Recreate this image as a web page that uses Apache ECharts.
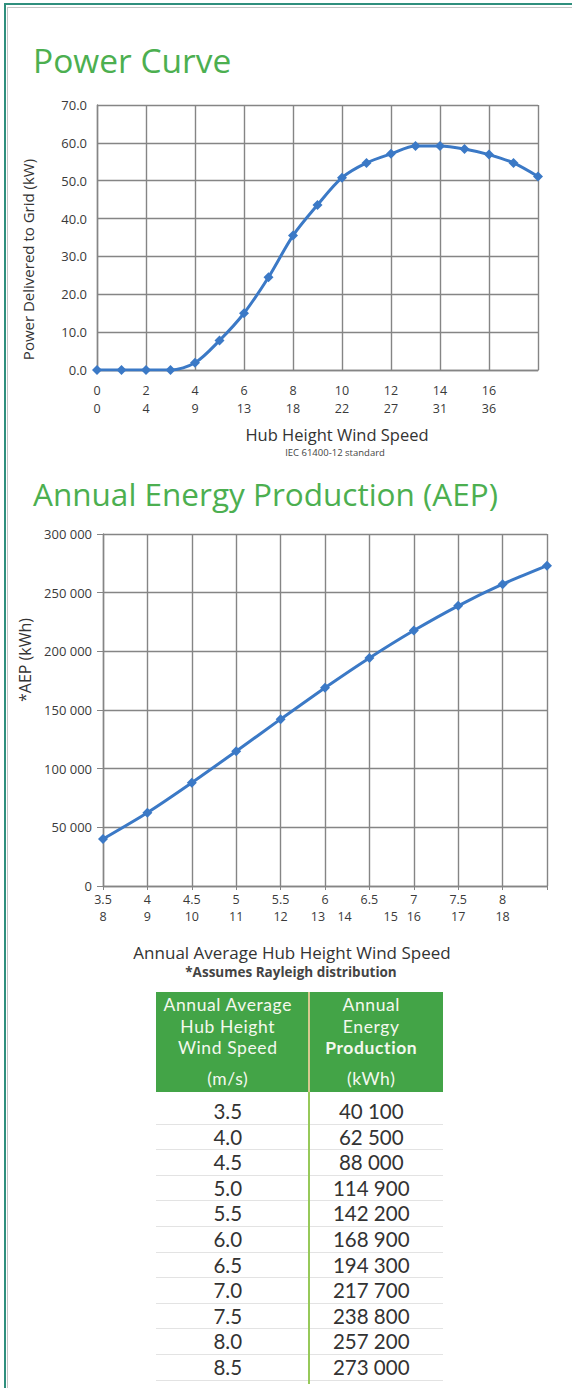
<!DOCTYPE html>
<html><head><meta charset="utf-8">
<script src="https://cdn.jsdelivr.net/npm/echarts@6/dist/echarts.min.js"></script>
<style>
html,body{margin:0;padding:0;background:#fff;}
#wrap{position:relative;width:572px;height:1388px;overflow:hidden;font-family:'Open Sans',sans-serif;}
#chart{position:absolute;left:0;top:0;width:572px;height:1388px;}
.fr{position:absolute;}
#tblHead{position:absolute;left:156px;top:992px;width:287px;height:100px;background:#43a447;display:flex;}
.hc{flex:1;color:#f4f8ee;font-family:Lato,sans-serif;font-size:17.5px;letter-spacing:0.6px;text-align:center;padding-top:2px;box-sizing:border-box;}
.hc .l{line-height:21.5px;height:21.5px;white-space:nowrap;}
.hc .u{margin-top:9px;}
#hdiv{position:absolute;left:308px;top:992px;width:2px;height:100px;background:#d6c98f;}
#bdiv{position:absolute;left:308px;top:1092px;width:2px;height:292px;background:#97c95a;}
#tblBody{position:absolute;left:156px;top:1099px;width:287px;}
.row{display:flex;height:25.6px;line-height:25.6px;border-bottom:1px solid #e3e3e3;box-sizing:border-box;font-family:Lato,sans-serif;font-size:20.5px;color:#333;}
.row div{flex:1;text-align:center;}
</style></head>
<body><div id="wrap">
<div id="chart"></div>
<div class="fr" style="left:4px;top:3px;right:0;height:2px;background:#2f8f7d"></div>
<div class="fr" style="left:7px;top:7px;right:0;height:1px;background:#c4c4c4"></div>
<div class="fr" style="left:4px;top:3px;bottom:0;width:2px;background:#2f8f7d"></div>
<div class="fr" style="left:7px;top:7px;bottom:0;width:1px;background:#c4c4c4"></div>
<div id="tblHead"></div>
<div id="hdiv"></div>
<div id="tblBody"></div>
<div id="bdiv"></div>
</div>
<script>
// ---- data ----
const pcSpeed = [0,1,2,3,4,5,6,7,8,9,10,11,12,13,14,15,16,17,18];
const pcPower = [0,0,0,0,1.9,7.8,15.0,24.5,35.5,43.6,50.8,54.7,57.1,59.2,59.2,58.4,56.9,54.7,51.1];
const pcTickMs = [0,2,4,6,8,10,12,14,16];
const pcTickMph = [0,4,9,13,18,22,27,31,36];

const aepSpeed = [3.5,4.0,4.5,5.0,5.5,6.0,6.5,7.0,7.5,8.0,8.5];
const aepValue = [40100,62500,88000,114900,142200,168900,194300,217700,238800,257200,273000];
const aepTickMs = [3.5,4,4.5,5,5.5,6,6.5,7,7.5,8];
const aepTickMsLabels = ['3.5','4','4.5','5','5.5','6','6.5','7','7.5','8'];
const aepMphPos = [3.5,4,4.5,5,5.5,5.92,6.22,6.74,7,7.5,8];
const aepMphLabels = ['8','9','10','11','12','13','14','15','16','17','18'];

const headCol1 = ['Annual Average','Hub Height','Wind Speed'];
const headCol1Unit = '(m/s)';
const headCol2 = ['Annual','Energy','Production'];
const headCol2Unit = '(kWh)';

// ---- helpers ----
const FONT = "'Open Sans', sans-serif";
const GREEN = '#4caf50';
const BLUE = '#3b79c6';
const GRID = '#858585';
const TXT = '#3a3a3a';
function thou(v){ return String(Math.round(v)).replace(/\B(?=(\d{3})+(?!\d))/g,' '); }
function idxOf(arr, v){ return arr.findIndex(p => Math.abs(p - v) < 1e-6); }

// ---- table ----
const head = document.getElementById('tblHead');
function headCell(lines, unit, boldIdx){
  const d = document.createElement('div'); d.className='hc';
  lines.forEach((t,i)=>{ const e=document.createElement('div'); e.className='l'; e.textContent=t; if(i===boldIdx) e.style.fontWeight='bold'; d.appendChild(e); });
  const u=document.createElement('div'); u.className='l u'; u.textContent=unit; d.appendChild(u);
  return d;
}
head.appendChild(headCell(headCol1, headCol1Unit, -1));
head.appendChild(headCell(headCol2, headCol2Unit, 2));
const body = document.getElementById('tblBody');
aepSpeed.forEach((s,i)=>{
  const r=document.createElement('div'); r.className='row';
  const a=document.createElement('div'); a.textContent=s.toFixed(1);
  const b=document.createElement('div'); b.textContent=thou(aepValue[i]);
  r.appendChild(a); r.appendChild(b); body.appendChild(r);
});

// ---- chart ----
const chart = echarts.init(document.getElementById('chart'), null, {renderer:'svg'});
const gridLine = {show:true, lineStyle:{color:GRID, width:1.4}};
const axisLine = {show:true, lineStyle:{color:GRID, width:1.4}};
const option = {
  animation:false,
  textStyle:{fontFamily:FONT},
  title:[
    {text:'Power Curve', left:33, top:43, padding:0, textStyle:{fontFamily:FONT,fontSize:33.5,fontWeight:'normal',color:GREEN}},
    {text:'Hub Height Wind Speed', left:337, top:426, padding:0, textAlign:'center', textStyle:{fontFamily:FONT,fontSize:16.5,fontWeight:'normal',color:'#333'}},
    {text:'IEC 61400-12 standard', left:335, top:447, padding:0, textAlign:'center', textStyle:{fontFamily:FONT,fontSize:9.5,fontWeight:'normal',color:'#444'}},
    {text:'Annual Energy Production (AEP)', left:33, top:477, padding:0, textStyle:{fontFamily:FONT,fontSize:31.5,fontWeight:'normal',color:GREEN}},
    {text:'Annual Average Hub Height Wind Speed', left:292, top:944, padding:0, textAlign:'center', textStyle:{fontFamily:FONT,fontSize:17,fontWeight:'normal',color:'#333'}},
    {text:'*Assumes Rayleigh distribution', left:291, top:965, padding:0, textAlign:'center', textStyle:{fontFamily:FONT,fontSize:13.5,fontWeight:'bold',color:'#444'}}
  ],
  grid:[
    {left:97, right:34, top:105, bottom:1018},
    {left:103, right:25, top:534, bottom:502}
  ],
  xAxis:[
    {gridIndex:0, type:'value', min:0, max:18, interval:2,
     axisLine:axisLine, axisTick:{show:false}, splitLine:gridLine,
     axisLabel:{margin:11, fontSize:12.5, lineHeight:18, color:TXT,
       formatter:v=>{const i=idxOf(pcTickMs,v); return i<0?'':pcTickMs[i]+'\n'+pcTickMph[i];}}},
    {gridIndex:1, type:'value', min:3.5, max:8.5, interval:0.5,
     axisLine:axisLine, axisTick:{show:true,length:4,lineStyle:{color:GRID}}, splitLine:gridLine,
     axisLabel:{margin:7, fontSize:12.5, color:TXT,
       formatter:v=>{const i=idxOf(aepTickMs,v); return i<0?'':aepTickMsLabels[i];}}},
    {gridIndex:1, type:'value', min:3.5, max:8.5, position:'bottom', offset:17,
     axisLine:{show:false}, axisTick:{show:false}, splitLine:{show:false},
     axisLabel:{customValues:aepMphPos, margin:7, fontSize:12.5, color:TXT,
       formatter:v=>{const i=idxOf(aepMphPos,v); return i<0?'':aepMphLabels[i];}}}
  ],
  yAxis:[
    {gridIndex:0, type:'value', min:0, max:70, interval:10,
     name:'Power Delivered to Grid (kW)', nameLocation:'middle', nameGap:62,
     nameTextStyle:{fontSize:15, color:'#333', padding:[0,44,0,0]},
     axisLine:axisLine, axisTick:{show:false}, splitLine:gridLine,
     axisLabel:{margin:10, fontSize:13, color:TXT, formatter:v=>v.toFixed(1)}},
    {gridIndex:1, type:'value', min:0, max:300000, interval:50000,
     name:'*AEP (kWh)', nameLocation:'middle', nameGap:67,
     nameTextStyle:{fontSize:16, color:'#333', padding:[0,0,0,100]},
     axisLine:axisLine, axisTick:{show:true,length:6,lineStyle:{color:GRID}}, splitLine:gridLine,
     axisLabel:{margin:11, fontSize:13, color:TXT, formatter:v=>thou(v)}}
  ],
  series:[
    {type:'line', xAxisIndex:0, yAxisIndex:0, data:pcSpeed.map((s,i)=>[s,pcPower[i]]),
     smooth:0.3, symbol:'diamond', symbolSize:10, lineStyle:{width:3,color:BLUE}, itemStyle:{color:BLUE}},
    {type:'line', xAxisIndex:1, yAxisIndex:1, data:aepSpeed.map((s,i)=>[s,aepValue[i]]),
     smooth:0.2, symbol:'diamond', symbolSize:10, lineStyle:{width:3,color:BLUE}, itemStyle:{color:BLUE}}
  ]
};
chart.setOption(option);
</script>
</body></html>
